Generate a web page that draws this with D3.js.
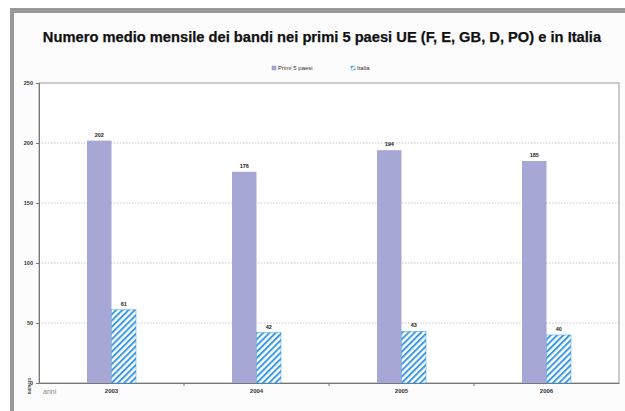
<!DOCTYPE html>
<html>
<head>
<meta charset="utf-8">
<script src="https://cdn.jsdelivr.net/npm/d3@7"></script>
<style>
  body { margin: 0; background: #ffffff; }
  svg { display: block; font-family: "Liberation Sans", Arial, sans-serif; }
</style>
</head>
<body>
<div id="chart"></div>
<script>
// data
var years = ["2003", "2004", "2005", "2006"];
var seriesNames = ["Primi 5 paesi", "Italia"];
var primi5 = [202, 176, 194, 185];
var italia = [61, 42, 43, 40];
var yTicks = [0, 50, 100, 150, 200, 250];

var width = 625, height = 411;
var plot = { left: 39, right: 619, top: 83, bottom: 383 };

var svg = d3.select("#chart").append("svg")
    .attr("width", width)
    .attr("height", height);

// hatch pattern for Italia
var defs = svg.append("defs");
var pat = defs.append("pattern")
    .attr("id", "hatch")
    .attr("patternUnits", "userSpaceOnUse")
    .attr("width", 4.4)
    .attr("height", 4.4)
    .attr("patternTransform", "rotate(45)");
pat.append("rect").attr("width", 4.4).attr("height", 4.4).attr("fill", "#ffffff");
pat.append("rect").attr("width", 2.0).attr("height", 4.4).attr("fill", "#3b9be0");

// outer frame (gray on top and left)
svg.append("rect")
    .attr("x", 10).attr("y", 8)
    .attr("width", width).attr("height", height)
    .attr("fill", "#999999");
svg.append("rect")
    .attr("x", 14).attr("y", 13)
    .attr("width", width).attr("height", height)
    .attr("fill", "#fcfcfd");

// title
svg.append("text")
    .attr("x", 322).attr("y", 42)
    .attr("text-anchor", "middle")
    .attr("font-size", 14.7)
    .attr("font-weight", "bold")
    .attr("fill", "#111111")
    .attr("stroke", "#111111")
    .attr("stroke-width", 0.25)
    .text("Numero medio mensile dei bandi nei primi 5 paesi UE (F, E, GB, D, PO) e in Italia");

// scales
var x0 = d3.scaleBand().domain(years).range([plot.left, plot.right]).padding(0);
var x1 = d3.scaleBand().domain(seriesNames).range([0, x0.bandwidth()])
    .paddingInner(0).paddingOuter(1.96);
var y = d3.scaleLinear().domain([0, 250]).range([plot.bottom, plot.top]);

// plot area
svg.append("rect")
    .attr("x", plot.left).attr("y", plot.top)
    .attr("width", plot.right - plot.left).attr("height", plot.bottom - plot.top)
    .attr("fill", "#ffffff")
    .attr("stroke", "#999999")
    .attr("stroke-width", 1);

// grid lines
svg.append("g")
    .selectAll("line")
    .data(yTicks.filter(function (d) { return d > 0 && d < 250; }))
    .enter()
    .append("line")
    .attr("x1", plot.left).attr("x2", plot.right)
    .attr("y1", function (d) { return y(d); })
    .attr("y2", function (d) { return y(d); })
    .attr("stroke", "#b8b8c4")
    .attr("stroke-width", 0.8)
    .attr("stroke-dasharray", "1.5,1.5");

// y axis
var yAxis = d3.axisLeft(y).tickValues(yTicks).tickSize(3).tickPadding(3);
var yG = svg.append("g")
    .attr("transform", "translate(" + plot.left + ",0)")
    .call(yAxis);
yG.select(".domain").attr("stroke", "#777777");
yG.selectAll(".tick line").attr("stroke", "#777777");
yG.selectAll("text")
    .attr("font-size", 5.5)
    .attr("font-weight", "bold")
    .attr("fill", "#333333");

// x axis
var xAxis = d3.axisBottom(x0).tickSize(0).tickPadding(6);
var xG = svg.append("g")
    .attr("transform", "translate(0," + plot.bottom + ")")
    .call(xAxis);
xG.select(".domain").attr("stroke", "#777777");
xG.selectAll("text")
    .attr("font-size", 6)
    .attr("font-weight", "bold")
    .attr("fill", "#333333");

// category boundary ticks
svg.append("g")
    .selectAll("line")
    .data(years.slice(1))
    .enter()
    .append("line")
    .attr("x1", function (d) { return x0(d); })
    .attr("x2", function (d) { return x0(d); })
    .attr("y1", plot.bottom)
    .attr("y2", plot.bottom + 3)
    .attr("stroke", "#777777");

// axis titles
svg.append("text")
    .attr("x", 43).attr("y", 394)
    .attr("font-size", 7)
    .attr("fill", "#8a8a8a")
    .text("anni");
svg.append("text")
    .attr("transform", "translate(31,386) rotate(-90)")
    .attr("text-anchor", "middle")
    .attr("font-size", 4.5)
    .attr("font-weight", "bold")
    .attr("fill", "#555555")
    .text("numero");

// bars
var rows = years.map(function (yr, i) {
    return [
        { year: yr, key: "Primi 5 paesi", value: primi5[i] },
        { year: yr, key: "Italia", value: italia[i] }
    ];
});

var groups = svg.append("g")
    .selectAll("g")
    .data(rows)
    .enter()
    .append("g")
    .attr("transform", function (d) { return "translate(" + x0(d[0].year) + ",0)"; });

groups.selectAll("rect")
    .data(function (d) { return d; })
    .enter()
    .append("rect")
    .attr("x", function (d) { return x1(d.key); })
    .attr("y", function (d) { return y(d.value); })
    .attr("width", x1.bandwidth())
    .attr("height", function (d) { return y(0) - y(d.value); })
    .attr("fill", function (d) { return d.key === "Italia" ? "url(#hatch)" : "#a7a7d5"; })
    .attr("stroke", function (d) { return d.key === "Italia" ? "#3b9be0" : "none"; })
    .attr("stroke-width", 0.5);

// value labels
groups.selectAll("text")
    .data(function (d) { return d; })
    .enter()
    .append("text")
    .attr("x", function (d) { return x1(d.key) + x1.bandwidth() / 2; })
    .attr("y", function (d) { return y(d.value) - 4; })
    .attr("text-anchor", "middle")
    .attr("font-size", 5.5)
    .attr("font-weight", "bold")
    .attr("fill", "#222222")
    .text(function (d) { return d.value; });

// legend
var legend = svg.append("g");
var legendItems = [
    { key: "Primi 5 paesi", x: 272 },
    { key: "Italia", x: 351 }
];
var li = legend.selectAll("g")
    .data(legendItems)
    .enter()
    .append("g")
    .attr("transform", function (d) { return "translate(" + d.x + ",66)"; });
li.append("rect")
    .attr("width", 4).attr("height", 4)
    .attr("fill", function (d) { return d.key === "Italia" ? "url(#hatch)" : "#a7a7d5"; })
    .attr("stroke", function (d) { return d.key === "Italia" ? "#3b9be0" : "#8888bb"; })
    .attr("stroke-width", 0.4);
li.append("text")
    .attr("x", 6).attr("y", 4.2)
    .attr("font-size", 6)
    .attr("fill", "#333333")
    .text(function (d) { return d.key; });
</script>
</body>
</html>
